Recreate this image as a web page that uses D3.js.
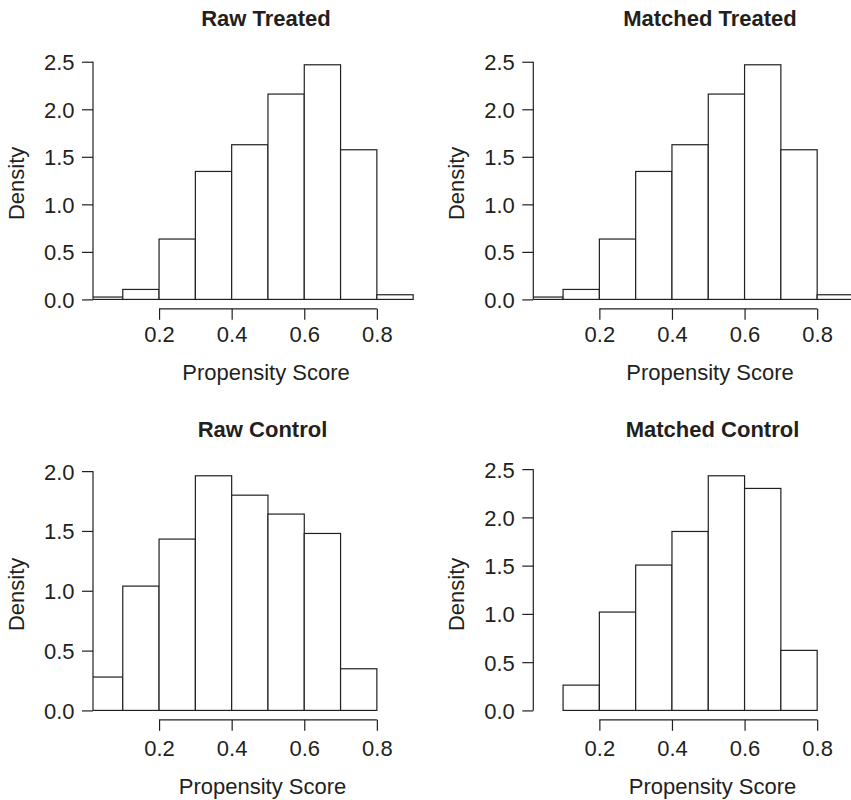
<!DOCTYPE html>
<html>
<head>
<meta charset="utf-8">
<script src="https://cdn.jsdelivr.net/npm/d3@7"></script>
<style>
  html, body { margin: 0; padding: 0; background: #fff; }
  svg { display: block; font-family: "Liberation Sans", Arial, Helvetica, sans-serif; }
</style>
</head>
<body>
<svg id="chart" width="851" height="800"></svg>
<script>
// Histogram densities of propensity scores (bin width 0.1)
const treatedBreaks = [0.0, 0.1, 0.2, 0.3, 0.4, 0.5, 0.6, 0.7, 0.8, 0.9];
const rawTreated = [0.025, 0.105, 0.635, 1.346, 1.627, 2.160, 2.468, 1.574, 0.049];
const matchedTreated = [0.025, 0.105, 0.635, 1.346, 1.627, 2.160, 2.468, 1.574, 0.049];

const rawControlBreaks = [0.0, 0.1, 0.2, 0.3, 0.4, 0.5, 0.6, 0.7, 0.8];
const rawControl = [0.279, 1.039, 1.432, 1.961, 1.799, 1.641, 1.479, 0.348];

const matchedControlBreaks = [0.1, 0.2, 0.3, 0.4, 0.5, 0.6, 0.7, 0.8];
const matchedControl = [0.262, 1.019, 1.506, 1.854, 2.431, 2.300, 0.622];

const panelTitles = ["Raw Treated", "Matched Treated", "Raw Control", "Matched Control"];
const xTicks = [0.2, 0.4, 0.6, 0.8];
const yTicksTreated = [0.0, 0.5, 1.0, 1.5, 2.0, 2.5];
const yTicksRawControl = [0.0, 0.5, 1.0, 1.5, 2.0];
const yTicksMatchedControl = [0.0, 0.5, 1.0, 1.5, 2.0, 2.5];
const xLabel = "Propensity Score";
const yLabel = "Density";

const panels = [
  { title: panelTitles[0], breaks: treatedBreaks, values: rawTreated, yTicks: yTicksTreated },
  { title: panelTitles[1], breaks: treatedBreaks, values: matchedTreated, yTicks: yTicksTreated },
  { title: panelTitles[2], breaks: rawControlBreaks, values: rawControl, yTicks: yTicksRawControl },
  { title: panelTitles[3], breaks: matchedControlBreaks, values: matchedControl, yTicks: yTicksMatchedControl }
];

// Layout of the 2x2 grid
const layout = [
  { left: 93,    top: 55.4,  textX: 266,   tickY: 33.5, labY: 71.5 },
  { left: 533.3, top: 55.4,  textX: 710,   tickY: 33.5, labY: 71.5 },
  { left: 93,    top: 466.4, textX: 262.5, tickY: 36,   labY: 74 },
  { left: 533.3, top: 466.4, textX: 712.5, tickY: 36,   labY: 74 }
];
const plotW = 346, plotH = 253.4;
const pxPerUnit = 363;
const xStart = 0.018;
const ink = "#231f20";
const fontSize = 22;

const svg = d3.select("#chart");

panels.forEach((p, i) => {
  const L = layout[i];
  const g = svg.append("g");
  const bottom = L.top + plotH;

  const x = d3.scaleLinear()
    .domain([xStart, xStart + plotW / pxPerUnit])
    .range([L.left, L.left + plotW]);

  const maxV = d3.max(p.values);
  const y = d3.scaleLinear()
    .domain([-0.04 * maxV, 1.04 * maxV])
    .range([bottom, L.top]);

  const clipId = "clip" + i;
  svg.append("clipPath").attr("id", clipId)
    .append("rect")
    .attr("x", L.left).attr("y", L.top - 2)
    .attr("width", plotW + 2).attr("height", plotH + 4);

  const bins = p.values.map((v, k) => ({ x0: p.breaks[k], x1: p.breaks[k + 1], v }));

  g.append("g").attr("clip-path", `url(#${clipId})`)
    .selectAll("rect").data(bins).join("rect")
    .attr("x", d => x(d.x0))
    .attr("width", d => x(d.x1) - x(d.x0))
    .attr("y", d => y(d.v))
    .attr("height", d => y(0) - y(d.v))
    .attr("fill", "#fff")
    .attr("stroke", ink)
    .attr("stroke-width", 1.2);

  // Y axis (line spans first to last tick, ticks point outward)
  const yAx = g.append("g").attr("transform", `translate(${L.left},0)`)
    .call(d3.axisLeft(y).tickValues(p.yTicks).tickSize(11).tickSizeOuter(0).tickPadding(7.5)
      .tickFormat(d3.format(".1f")));
  yAx.select(".domain").remove();
  yAx.append("line")
    .attr("x1", 0).attr("x2", 0)
    .attr("y1", y(d3.min(p.yTicks))).attr("y2", y(d3.max(p.yTicks)))
    .attr("stroke", ink).attr("stroke-width", 1.2);
  yAx.selectAll(".tick line").attr("stroke", ink).attr("stroke-width", 1.2);
  yAx.selectAll(".tick text")
    .attr("fill", ink).attr("font-size", fontSize).attr("font-family", null)
    .attr("dy", "0.36em");

  // X axis at bottom of plot region
  const xAx = g.append("g").attr("transform", `translate(0,${bottom})`)
    .call(d3.axisBottom(x).tickValues(xTicks).tickSize(11).tickSizeOuter(0).tickPadding(0)
      .tickFormat(d3.format(".1f")));
  xAx.select(".domain").remove();
  xAx.append("line")
    .attr("x1", x(d3.min(xTicks))).attr("x2", x(d3.max(xTicks)))
    .attr("y1", 0).attr("y2", 0)
    .attr("stroke", ink).attr("stroke-width", 1.2);
  xAx.selectAll(".tick line").attr("stroke", ink).attr("stroke-width", 1.2);
  xAx.selectAll(".tick text")
    .attr("fill", ink).attr("font-size", fontSize).attr("font-family", null)
    .attr("y", L.tickY).attr("dy", null);

  // Titles and axis labels
  g.append("text")
    .attr("x", L.textX).attr("y", L.top - 29.4)
    .attr("text-anchor", "middle")
    .attr("font-weight", "bold").attr("font-size", fontSize)
    .attr("fill", ink).text(p.title);

  g.append("text")
    .attr("x", L.textX).attr("y", bottom + L.labY)
    .attr("text-anchor", "middle")
    .attr("font-size", fontSize).attr("fill", ink).text(xLabel);

  g.append("text")
    .attr("transform", `translate(${L.left - 69},${L.top + 128}) rotate(-90)`)
    .attr("text-anchor", "middle")
    .attr("font-size", fontSize).attr("fill", ink).text(yLabel);
});
</script>
</body>
</html>
